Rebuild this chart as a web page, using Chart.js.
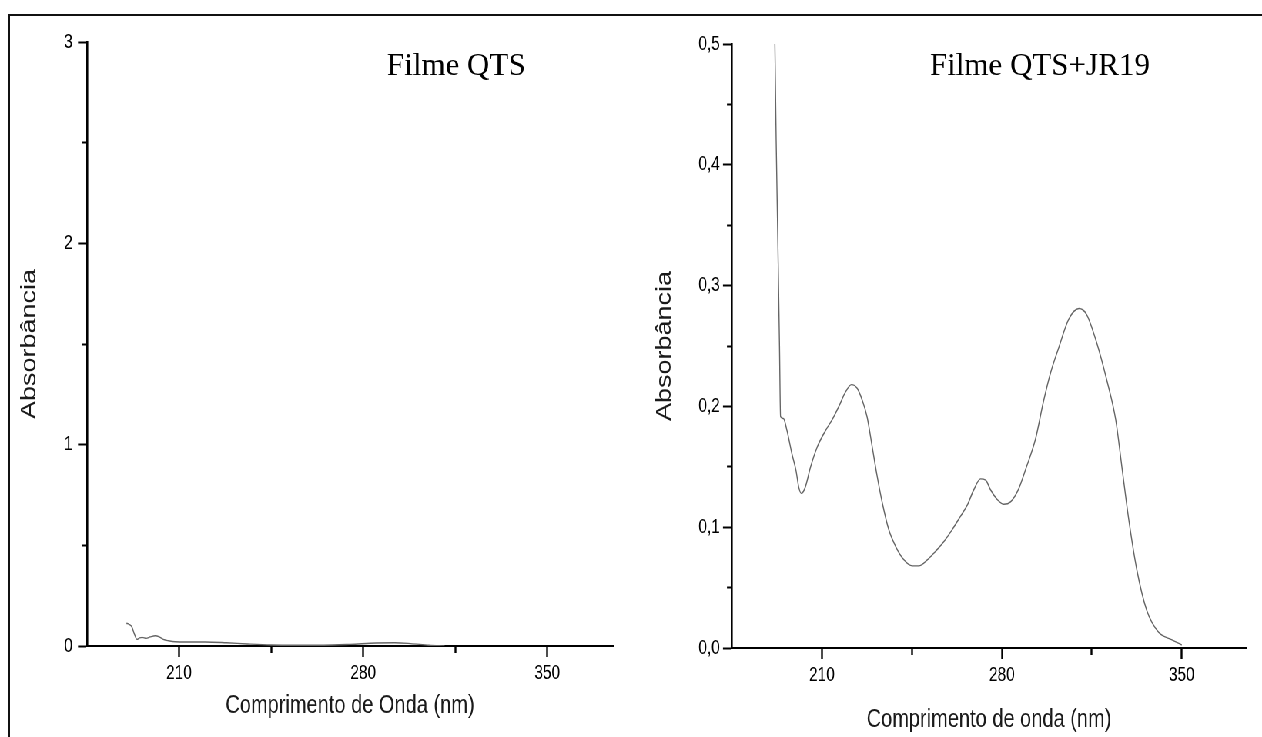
<!DOCTYPE html>
<html lang="pt">
<head>
<meta charset="utf-8">
<title>Absorbância - Filme QTS e QTS+JR19</title>
<script src="https://cdn.jsdelivr.net/npm/chart.js"></script>
<style>
  html, body { margin: 0; padding: 0; background: #fff; overflow: hidden; }
  body { width: 1262px; height: 737px; position: relative; }
  .frame { position: absolute; left: 8px; top: 14px; width: 1300px; height: 800px;
           border-left: 2px solid #111; border-top: 2px solid #111; }
  /* the original figure is squeezed horizontally */
  .squeeze { position: absolute; left: 0; top: 0; width: 1639px; height: 737px;
             transform: scaleX(0.77); transform-origin: 0 0; }
  canvas { position: absolute; top: 0; }
  #qtsChart { left: 0; width: 818px; height: 737px; }
  #jrChart { left: 818px; width: 821px; height: 737px; }
</style>
</head>
<body>

<div class="frame"></div>
<div class="squeeze">
  <canvas id="qtsChart" width="818" height="737"></canvas>
  <canvas id="jrChart" width="821" height="737"></canvas>
</div>

<script>
    const SQUEEZE = 0.77;

    // shared wavelength axis
    const xMin = 175, xMax = 375;
    const xMajorTicks = [210, 280, 350];
    const xMinorTicks = [245, 315];

    // Filme QTS
    const qtsWavelength = [190, 191, 192, 193, 194, 195, 196, 197.5, 199, 201, 202.5, 204, 206, 208.5,
                           213, 220, 228, 236, 245, 255, 265, 275, 285, 292, 298, 305, 311];
    const qtsAbsorbance = [0.113, 0.108, 0.096, 0.06, 0.033, 0.04, 0.043, 0.038, 0.045, 0.051, 0.045, 0.033, 0.026, 0.021,
                           0.02, 0.02, 0.016, 0.01, 0.005, 0.004, 0.004, 0.008, 0.015, 0.016, 0.012, 0.004, 0.0];
    const qtsYMajor = [0, 1, 2, 3];
    const qtsYMinor = [0.5, 1.5, 2.5];

    // Filme QTS+JR19
    const jrWavelength = [191.7, 192.2, 192.9, 193.5, 193.9, 195.0, 196.4, 198.3, 199.9, 201.0, 202.0, 203.5,
                          205.6, 208.1, 211.4, 214.0, 216.6, 219.2, 221.5, 223.7, 225.7, 227.6, 229.6, 231.5,
                          233.5, 236.0, 238.7, 241.9, 245.1, 247.7, 251.0, 254.2, 257.4, 260.7, 263.9, 266.5,
                          269.1, 271.7, 273.7, 275.6, 278.2, 280.8, 283.4, 286.6, 289.6, 293.1, 296.2, 299.0,
                          302.2, 306.0, 310.0, 313.0, 317.0, 320.8, 324.3, 326.7, 329.4, 332.5, 336.4, 341.0,
                          346.0, 350.0];
    const jrAbsorbance = [0.5, 0.42, 0.33, 0.25, 0.1915, 0.19, 0.18, 0.161, 0.147, 0.133, 0.128, 0.133,
                          0.15, 0.166, 0.18, 0.189, 0.2, 0.212, 0.218, 0.215, 0.205, 0.191, 0.166, 0.142,
                          0.12, 0.098, 0.084, 0.073, 0.068, 0.068, 0.073, 0.08, 0.088, 0.098, 0.109, 0.118,
                          0.131, 0.14, 0.139, 0.131, 0.123, 0.119, 0.121, 0.132, 0.15, 0.173, 0.204, 0.228,
                          0.249, 0.272, 0.281, 0.276, 0.252, 0.222, 0.189, 0.15, 0.106, 0.065, 0.031, 0.013,
                          0.007, 0.0025];
    const jrYMajor = [0, 0.1, 0.2, 0.3, 0.4, 0.5];
    const jrYMinor = [0.05, 0.15, 0.25, 0.35, 0.45];

    const sans = "'Liberation Sans', Arial, sans-serif";

    function tickList(major, minor) {
        return major.map(v => ({ value: v, minor: false }))
            .concat(minor.map(v => ({ value: v, minor: true })))
            .sort((a, b) => a.value - b.value);
    }

    // draws the panel caption without the horizontal squeeze
    const panelLabel = {
        id: 'panelLabel',
        afterDraw(chart, args, opts) {
            const ctx = chart.ctx;
            ctx.save();
            ctx.font = "31px 'Liberation Serif', 'Times New Roman', serif";
            ctx.fillStyle = '#000';
            ctx.textBaseline = 'alphabetic';
            ctx.translate(chart.chartArea.left + opts.dx / SQUEEZE, opts.y);
            ctx.scale(1 / SQUEEZE, 1);
            ctx.fillText(opts.text, 0, 0);
            ctx.restore();
        }
    };

    function makePanel(id, cfg) {
        const yTickLen = 11.7, xTickLen = 11;
        new Chart(document.getElementById(id), {
            type: 'line',
            data: {
                datasets: [{
                    data: cfg.xs.map((x, i) => ({ x: x, y: cfg.ys[i] })),
                    borderColor: '#656565',
                    borderWidth: 1.4,
                    pointRadius: 0,
                    fill: false,
                    cubicInterpolationMode: 'monotone'
                }]
            },
            plugins: [panelLabel],
            options: {
                responsive: false,
                animation: false,
                layout: { padding: { left: 0, right: cfg.padRight, top: cfg.padTop, bottom: 0 } },
                scales: {
                    x: {
                        type: 'linear',
                        min: xMin,
                        max: xMax,
                        afterBuildTicks: s => { s.ticks = tickList(xMajorTicks, xMinorTicks); },
                        afterFit: s => { s.height = cfg.xAxisHeight; },
                        border: { display: true, color: '#000', width: 2 },
                        grid: {
                            drawOnChartArea: false,
                            drawTicks: true,
                            tickLength: xTickLen,
                            tickColor: '#000',
                            tickWidth: 2.4,
                            tickBorderDash: c => (c.tick && c.tick.minor) ? [6, 100] : []
                        },
                        ticks: {
                            autoSkip: false,
                            maxRotation: 0,
                            padding: 4,
                            color: '#000',
                            font: { family: sans, size: 20 },
                            callback: (v, i, ticks) => ticks[i].minor ? '' : String(v)
                        },
                        title: {
                            display: true,
                            text: cfg.xTitle,
                            color: '#1a1a1a',
                            font: { family: sans, size: 26 },
                            padding: { top: 0, bottom: cfg.xTitlePad }
                        }
                    },
                    y: {
                        min: 0,
                        max: cfg.yMax,
                        afterBuildTicks: s => { s.ticks = tickList(cfg.yMajor, cfg.yMinor); },
                        afterFit: s => { s.width = cfg.yAxisWidth; },
                        border: { display: true, color: '#000', width: 2.6 },
                        grid: {
                            drawOnChartArea: false,
                            drawTicks: true,
                            tickLength: yTickLen,
                            tickColor: '#000',
                            tickWidth: 2,
                            tickBorderDash: c => (c.tick && c.tick.minor) ? [0, yTickLen - 6.5, 6.5, 100] : []
                        },
                        ticks: {
                            autoSkip: false,
                            padding: cfg.yTickPad,
                            color: '#000',
                            font: { family: sans, size: 20 },
                            callback: (v, i, ticks) => ticks[i].minor ? '' : cfg.yFormat(v)
                        },
                        title: {
                            display: true,
                            text: 'Absorbância',
                            color: '#1a1a1a',
                            font: { family: sans, size: 27 },
                            padding: { top: cfg.yTitlePad, bottom: 0 }
                        }
                    }
                },
                plugins: {
                    legend: { display: false },
                    tooltip: { enabled: false },
                    panelLabel: { text: cfg.label, dx: cfg.labelDx, y: 75 }
                }
            }
        });
    }

    makePanel('qtsChart', {
        xs: qtsWavelength, ys: qtsAbsorbance,
        yMax: 3, yMajor: qtsYMajor, yMinor: qtsYMinor,
        yFormat: v => String(v),
        xTitle: 'Comprimento de Onda (nm)',
        label: 'Filme QTS', labelDx: 300,
        padTop: 42, padRight: 22, xAxisHeight: 91, yAxisWidth: 113,
        xTitlePad: 15.4, yTitlePad: 22.8, yTickPad: 7
    });

    makePanel('jrChart', {
        xs: jrWavelength, ys: jrAbsorbance,
        yMax: 0.5, yMajor: jrYMajor, yMinor: jrYMinor,
        yFormat: v => v.toFixed(1).replace('.', ','),
        xTitle: 'Comprimento de onda (nm)',
        label: 'Filme QTS+JR19', labelDx: 198,
        padTop: 44, padRight: 20.8, xAxisHeight: 89, yAxisWidth: 132.6,
        xTitlePad: 1.4, yTitlePad: 29.4, yTickPad: 4
    });
</script>

</body>
</html>
